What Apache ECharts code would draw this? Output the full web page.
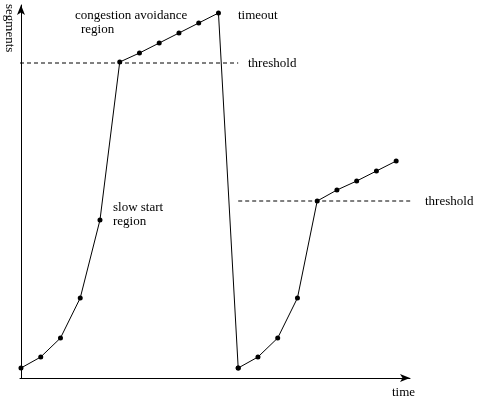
<!DOCTYPE html>
<html><head><meta charset="utf-8">
<script src="https://cdn.jsdelivr.net/npm/echarts@6/dist/echarts.min.js"></script>
<style>html,body{margin:0;background:#fff}#c{width:483px;height:405px}</style>
</head><body><div id="c"></div>
<script>
// time steps and congestion window (arbitrary units)
var steps1 = [0, 1, 2, 3, 4, 5, 6, 7, 8, 9, 10];
var cwnd1 = [1.0, 2.1, 4.0, 8.0, 15.8, 31.6, 32.5, 33.5, 34.5, 35.5, 36.5];
var steps2 = [11, 12, 13, 14, 15, 16, 17, 18, 19];
var cwnd2 = [1.0, 2.1, 4.0, 8.0, 17.7, 18.8, 19.7, 20.7, 21.7];
var threshold1 = [[-0.05, 31.5], [11, 31.5]];
var threshold2 = [[11, 17.7], [19.95, 17.7]];

function pairs(xs, ys) { return xs.map(function (x, i) { return [x, ys[i]]; }); }
var font = '"Liberation Serif", serif';
var myChart = echarts.init(document.getElementById('c'));
myChart.setOption({
    animation: false,
    grid: { left: 20, right: 73, top: 5, bottom: 27 },
    xAxis: {
        type: 'value', min: -0.05, max: 19.7,
        axisLine: { lineStyle: { color: '#000' }, symbol: ['none', 'arrow'], symbolSize: [6, 10] },
        axisTick: { show: false }, axisLabel: { show: false }, splitLine: { show: false }
    },
    yAxis: {
        type: 'value', min: 0, max: 37.3,
        axisLine: { show: true, lineStyle: { color: '#000' }, symbol: ['none', 'arrow'], symbolSize: [6, 10] },
        axisTick: { show: false }, axisLabel: { show: false }, splitLine: { show: false }
    },
    series: [
        { type: 'line', data: pairs(steps1, cwnd1).concat([[steps2[0], cwnd2[0]]]), symbol: 'circle', symbolSize: 5,
          lineStyle: { color: '#000', width: 1 }, itemStyle: { color: '#000' } },
        { type: 'line', data: pairs(steps2, cwnd2), symbol: 'circle', symbolSize: 5,
          lineStyle: { color: '#000', width: 1 }, itemStyle: { color: '#000' } },
        { type: 'line', data: threshold1, symbol: 'none', clip: false, z: 1,
          lineStyle: { color: '#000', width: 1, type: [4, 3] } },
        { type: 'line', data: threshold2, symbol: 'none', clip: false, z: 1,
          lineStyle: { color: '#000', width: 1, type: [4, 3] } }
    ],
    graphic: [
        { type: 'text', left: 75, top: 9, style: { text: 'congestion avoidance', font: '13px ' + font, fill: '#000' } },
        { type: 'text', left: 81, top: 23, style: { text: 'region', font: '13px ' + font, fill: '#000' } },
        { type: 'text', left: 238, top: 9, style: { text: 'timeout', font: '13px ' + font, fill: '#000' } },
        { type: 'text', left: 248, top: 57, style: { text: 'threshold', font: '13px ' + font, fill: '#000' } },
        { type: 'text', left: 425, top: 195, style: { text: 'threshold', font: '13px ' + font, fill: '#000' } },
        { type: 'text', left: 113, top: 201, style: { text: 'slow start', font: '13px ' + font, fill: '#000' } },
        { type: 'text', left: 113, top: 215, style: { text: 'region', font: '13px ' + font, fill: '#000' } },
        { type: 'text', left: 392, top: 386, style: { text: 'time', font: '13px ' + font, fill: '#000' } },
        { type: 'text', x: 16, y: 4, rotation: -Math.PI / 2, style: { text: 'segments', font: '13px ' + font, fill: '#000', align: 'left', verticalAlign: 'top' } }
    ]
});
</script></body></html>
